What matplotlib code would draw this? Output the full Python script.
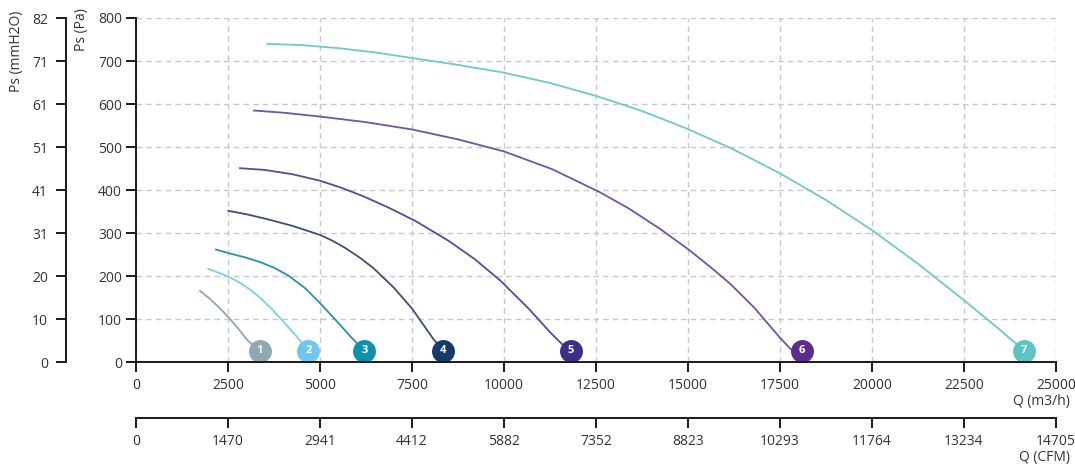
import matplotlib
matplotlib.use("Agg")
import matplotlib.pyplot as plt

plt.rcParams['font.family'] = ['Open Sans', 'DejaVu Sans']

# fan curves, Q in m3/h and Ps in Pa
q1 = [1740, 2000, 2250, 2500, 2780, 3040, 3370]
p1 = [166, 148, 128, 106, 78, 50, 27]
q2 = [1965, 2250, 2510, 2800, 3100, 3400, 3700, 3913, 4367, 4680]
p2 = [217, 208, 199, 186, 169, 148, 123, 103, 60, 27]
q3 = [2174, 2500, 3000, 3400, 3770, 4150, 4600, 5040, 5450, 5860, 6205]
p3 = [262, 254, 243, 232, 219, 201, 172, 134, 96, 57, 27]
q4 = [2510, 3000, 3550, 4250, 5000, 5350, 5700, 6100, 6450, 7000, 7500, 8080, 8350]
p4 = [352, 344, 333, 317, 296, 282, 265, 242, 219, 174, 125, 54, 27]
q5 = [2826, 3500, 4250, 5000, 5600, 6200, 6900, 7600, 8500, 9200, 9900, 10700, 11250, 11580, 11820]
p5 = [451, 447, 437, 422, 405, 385, 358, 328, 282, 240, 190, 122, 70, 42, 27]
q6 = [3207, 4000, 5000, 6250, 7500, 8750, 10000, 11300, 12610, 13400, 14240, 15000, 15600,
      16140, 16800, 17500, 17800, 18090]
p6 = [585, 580, 571, 558, 541, 518, 490, 449, 395, 357, 310, 263, 222,
      183, 127, 57, 30, 27]
q7 = [3570, 4500, 5500, 6500, 7500, 8750, 10000, 11250, 12500, 13750, 15000, 16250, 17500,
      18750, 20000, 21250, 22500, 23400, 24130]
p7 = [740, 737, 730, 720, 707, 691, 673, 649, 619, 584, 542, 494, 439,
      377, 307, 229, 144, 81, 27]

curve_names = ['1', '2', '3', '4', '5', '6', '7']
line_colors = ['#8ba7b4', '#7ccdee', '#2a90ab', '#3c5075', '#5b4a98', '#74549f', '#72c8c8']
dot_colors = ['#8fa8b4', '#6fc8ec', '#1190ab', '#173a6b', '#3c2f8c', '#5b2d8e', '#5fc2c3']

q_ticks = [0, 2500, 5000, 7500, 10000, 12500, 15000, 17500, 20000, 22500, 25000]
cfm_labels = ['0', '1470', '2941', '4412', '5882', '7352', '8823', '10293', '11764', '13234', '14705']
pa_ticks = [0, 100, 200, 300, 400, 500, 600, 700, 800]
mm_labels = ['0', '10', '20', '31', '41', '51', '61', '71', '82']

text_col = '#333333'
axis_col = '#1a1a1a'
fs = 10

fig = plt.figure(figsize=(10.75, 4.69), dpi=100)
ax = fig.add_axes([136 / 1075, 1 - 362.3 / 469, 920 / 1075, 344.3 / 469])

curves = [(q1, p1), (q2, p2), (q3, p3), (q4, p4), (q5, p5), (q6, p6), (q7, p7)]
for i, (q, p) in enumerate(curves):
    ax.plot(q, p, color=line_colors[i], lw=1.3, solid_joinstyle='round', zorder=3)
    ax.plot(q[-1], p[-1], 'o', ms=16.5, color=dot_colors[i], mec='none', zorder=4)
    ax.text(q[-1], p[-1], curve_names[i], color='white', fontsize=8, fontweight='bold',
            ha='center', va='center', zorder=5)

ax.set_xlim(0, 25000)
ax.set_ylim(0, 800)
ax.set_xticks(q_ticks)
ax.set_xticklabels([str(t) for t in q_ticks])
ax.set_yticks(pa_ticks)
ax.grid(True, color='#c8c8c8', lw=1, ls=(0, (4, 3)))
ax.set_axisbelow(True)
for s in ['top', 'right']:
    ax.spines[s].set_visible(False)
for s in ['left', 'bottom']:
    ax.spines[s].set_linewidth(1.4)
    ax.spines[s].set_color(axis_col)
    ax.spines[s].set_zorder(6)
ax.tick_params(axis='y', direction='out', length=7, width=1.4, pad=3, labelsize=fs,
               labelcolor=text_col, color=axis_col)
ax.tick_params(axis='x', direction='out', length=7, width=1.4, pad=4, labelsize=fs,
               labelcolor=text_col, color=axis_col)

# second pressure scale in mmH2O
ax2 = ax.twinx()
ax2.set_ylim(0, 800)
ax2.yaxis.tick_left()
ax2.set_yticks(pa_ticks)
ax2.set_yticklabels(mm_labels)
for s in ['top', 'right', 'bottom']:
    ax2.spines[s].set_visible(False)
ax2.spines['left'].set_position(('outward', 50.4))
ax2.spines['left'].set_linewidth(1.4)
ax2.spines['left'].set_color(axis_col)
ax2.tick_params(axis='y', direction='out', length=7, width=1.4, pad=6, labelsize=fs,
                labelcolor=text_col, color=axis_col)

# flow scale in CFM
ax3 = ax.twiny()
ax3.set_xlim(0, 25000)
ax3.xaxis.set_ticks_position('bottom')
ax3.xaxis.set_label_position('bottom')
ax3.set_xticks(q_ticks)
ax3.set_xticklabels(cfm_labels)
for s in ['top', 'right', 'left']:
    ax3.spines[s].set_visible(False)
ax3.spines['bottom'].set_position(('outward', 40.3))
ax3.spines['bottom'].set_linewidth(1.4)
ax3.spines['bottom'].set_color(axis_col)
ax3.tick_params(axis='x', direction='out', length=7, width=1.4, pad=4, labelsize=fs,
                labelcolor=text_col, color=axis_col)

fig.text(1070 / 1075, 1 - 402 / 469, 'Q (m3/h)', ha='right', va='center', fontsize=fs, color=text_col)
fig.text(1070 / 1075, 1 - 457.5 / 469, 'Q (CFM)', ha='right', va='center', fontsize=fs, color=text_col)
fig.text(82 / 1075, 1 - 30 / 469, 'Ps (Pa)', rotation=90, ha='center', va='center', fontsize=fs, color=text_col)
fig.text(17 / 1075, 1 - 51 / 469, 'Ps (mmH2O)', rotation=90, ha='center', va='center', fontsize=fs, color=text_col)

fig.savefig('out.png', dpi=100)
